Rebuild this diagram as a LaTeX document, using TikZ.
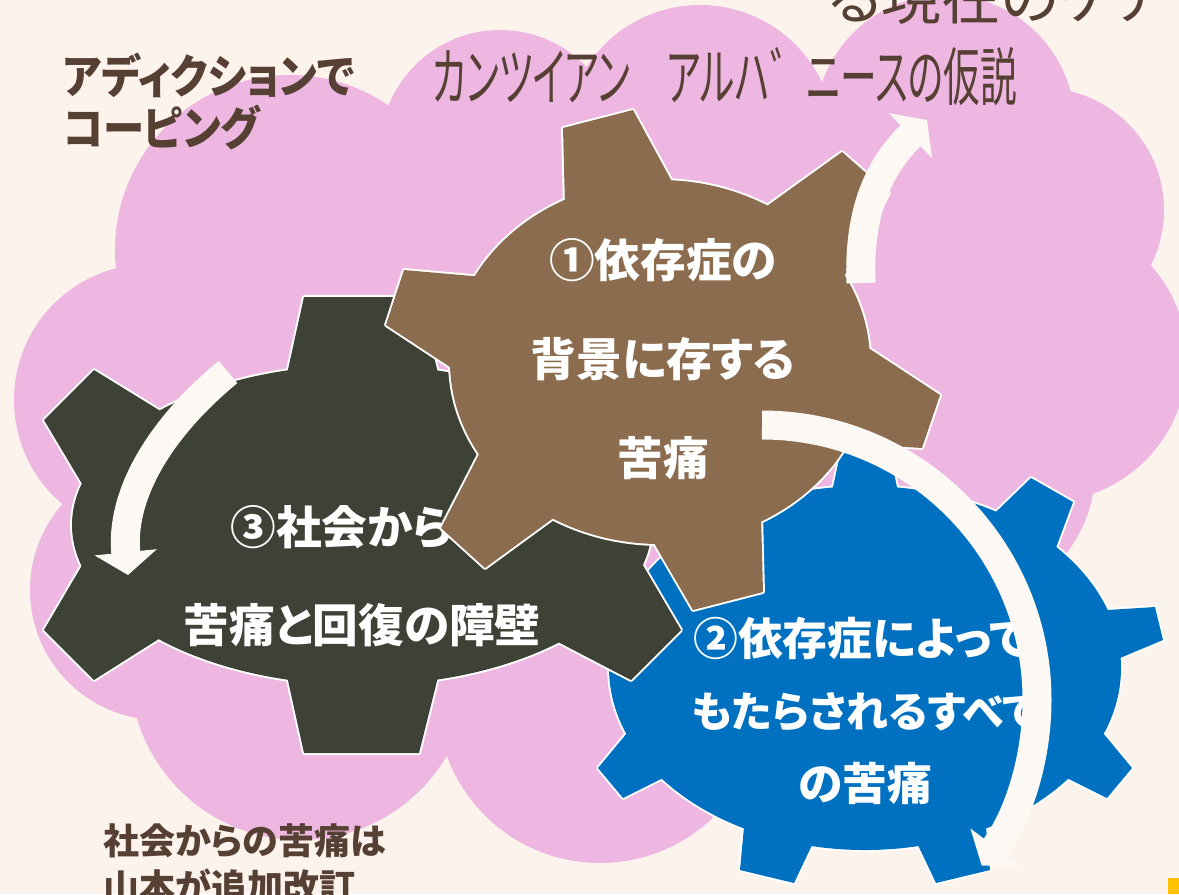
\documentclass[tikz,border=0pt]{standalone}
\usepackage{fontspec}
\newfontfamily\jpfont{Noto Sans CJK JP}[RawFeature={+palt}]
\usetikzlibrary{arrows.meta,calc}

\definecolor{paper}{HTML}{FDF3ED}
\definecolor{cloudpink}{HTML}{EDB7E1}
\definecolor{gearbrown}{HTML}{8B6C4E}
\definecolor{geardark}{HTML}{3D4136}
\definecolor{gearblue}{HTML}{0070C0}
\definecolor{bandwhite}{HTML}{FCF8F4}
\definecolor{inkbrown}{HTML}{564034}
\definecolor{markyellow}{HTML}{FFC000}

% teeth: base, tip, tip, base (x/y pairs)
\newcommand{\teethbrown}{565/207/563/128/633/110/670/178, 778/198/842/152/889/193/852/262,
  876/353/940/395/922/448/845/443, 761/513/763/592/693/610/654/543,
  548/522/485/568/441/528/476/460, 450/367/386/325/404/270/484/277}
\newcommand{\teethdark}{289/365/304/297/419/297/436/365, 154/407/94/370/44/420/81/482,
  81/567/44/630/94/680/154/642, 289/685/304/753/419/753/436/685,
  558/642/631/680/681/630/644/567, 570/407/630/370/680/420/643/482}
\newcommand{\teethblue}{832/492/842/445/888/445/898/492, 1000/508/1031/478/1073/502/1057/545,
  730/508/699/478/657/502/673/545, 1107/610/1155/607/1163/640/1120/658,
  623/610/575/607/567/640/610/658, 1103/733/1132/768/1107/798/1067/778,
  627/733/598/768/623/798/663/778, 986/827/990/870/936/883/917/843,
  744/827/740/870/794/883/813/843}

% white rim first, then the fill on top of it
\newcommand{\drawgear}[5]{%
  \path[gearedge] (#2) ellipse[x radius=#3, y radius=#4];
  \foreach \xa/\ya/\xb/\yb/\xc/\yc/\xd/\yd in #5
    \path[gearedge] ($(\xa,\ya)!-0.3!(\xb,\yb)$) -- (\xb,\yb) -- (\xc,\yc) -- ($(\xd,\yd)!-0.3!(\xc,\yc)$) -- cycle;
  \fill[#1] (#2) ellipse[x radius=#3, y radius=#4];
  \foreach \xa/\ya/\xb/\yb/\xc/\yc/\xd/\yd in #5
    \fill[#1] ($(\xa,\ya)!-0.3!(\xb,\yb)$) -- (\xb,\yb) -- (\xc,\yc) -- ($(\xd,\yd)!-0.3!(\xc,\yc)$) -- cycle;
}

\begin{document}
\begin{tikzpicture}[x=0.02cm, y=-0.02cm,
  gearedge/.style={draw=white, line width=2.2pt, line join=round},
  band/.style={draw=bandwhite, line width=16.5pt, -{Triangle[width=35pt,length=13pt]}},
  geartext/.style={text=white, inner sep=0pt, font=\jpfont\bfseries\fontsize{26pt}{30pt}\selectfont},
  bluetext/.style={geartext, font=\jpfont\bfseries\fontsize{25.5pt}{30pt}\selectfont},
  hypotext/.style={text=inkbrown, inner sep=0pt, anchor=base west, font=\jpfont\fontsize{36pt}{40pt}\selectfont},
  copetext/.style={text=inkbrown, inner sep=0pt, anchor=base west, font=\jpfont\bfseries\fontsize{25pt}{30pt}\selectfont},
  notetext/.style={copetext, font=\jpfont\bfseries\fontsize{20.5pt}{26pt}\selectfont}]

  \useasboundingbox (0,0) rectangle (1179,894);
  \fill[paper] (0,0) rectangle (1179,894);

  % cloud
  \fill[cloudpink] (620,430) ellipse[x radius=380, y radius=300]
    (290,250) circle[radius=175] (500,150) circle[radius=120]
    (700,140) circle[radius=135] (945,125) circle[radius=130]
    (1042,210) circle[radius=122] (1045,360) circle[radius=142]
    (960,470) circle[radius=135] (150,400) circle[radius=136]
    (160,590) circle[radius=130] (300,670) circle[radius=170]
    (600,700) circle[radius=163];

  \node[hypotext, font=\jpfont\fontsize{34pt}{40pt}\selectfont] (care) at (828,19) {る現在のケア};
  \node[hypotext] (hypo) at (432,100) {\scalebox{0.58}[1]{カンツイアン　アルハ゛ニースの仮説}};
  \node[copetext] (cope1) at (63,93) {\scalebox{0.94}[1.05]{アディクションで}};
  \node[copetext] (cope2) at (63,145) {\scalebox{0.94}[1.05]{コーピング}};
  \node[notetext] (note1) at (103,854) {社会からの苦痛は};
  \node[notetext] (note2) at (103,900) {山本が追加改訂};

  % gears, back to front
  \drawgear{gearblue}{865,668}{256}{182}{\teethblue}
  \node[bluetext, anchor=west] (b1) at (693,638) {②依存症によって};
  \node[bluetext, anchor=west, font=\jpfont\bfseries\fontsize{24pt}{28pt}\selectfont] (b2) at (691,712) {もたらされるすべて};
  \node[bluetext] (b3) at (865,783) {の苦痛};

  \drawgear{geardark}{362,525}{290}{160}{\teethdark}
  \node[geartext, anchor=west] (d1) at (230,527) {③社会から};
  \node[geartext] (d2) at (362,625) {苦痛と回復の障壁};

  \drawgear{gearbrown}{660,362}{210}{182}{\teethbrown}
  \node[geartext] (a1) at (663,260) {①依存症の};
  \node[geartext] (a2) at (663,359) {背景に存する};
  \node[geartext] (a3) at (663,458) {苦痛};

  % cycle arrows
  \draw[band] (861,283) .. controls (858,210) and (880,165) .. (927,120);
  \draw[band] (762,425) arc[start angle=-90, end angle=37, radius=275];
  \draw[band] (228,372) .. controls (160,428) and (120,495) .. (128,575);

  \fill[markyellow] (1168,878) rectangle (1179,894);
\end{tikzpicture}
\end{document}
